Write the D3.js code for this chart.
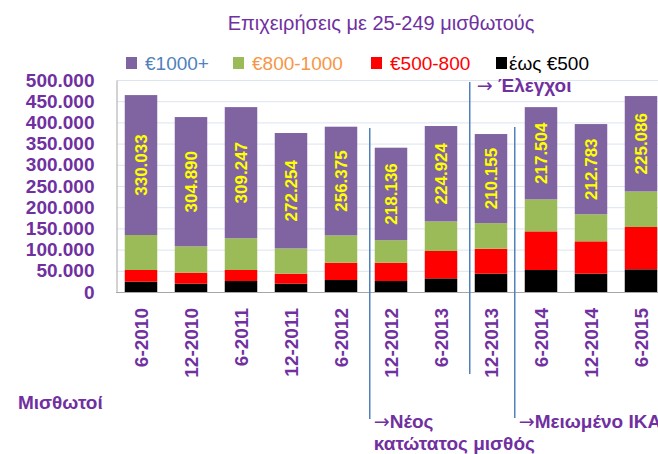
<!DOCTYPE html>
<html>
<head>
<meta charset="utf-8">
<script src="https://cdn.jsdelivr.net/npm/d3@7"></script>
<style>
  body { margin: 0; background: #fff; }
  text { font-family: "Liberation Sans", Arial, sans-serif; }
</style>
</head>
<body>
<script>
// data
var categories = ["6-2010","12-2010","6-2011","12-2011","6-2012","12-2012","6-2013","12-2013","6-2014","12-2014","6-2015"]
var upTo500   = [24300, 19600, 25900, 19600, 28300, 25900, 32200, 43200, 51900, 43200, 53500]
var r500to800 = [27600, 26000, 26000, 23600, 40800, 43200, 64500, 58800, 91100, 76300, 99800]
var r800to1000 = [82500, 62100, 74900, 59500, 64400, 53100, 69800, 60400, 75500, 63800, 83800]
var over1000  = [330033, 304890, 309247, 272254, 256375, 218136, 224924, 210155, 217504, 212783, 225086]
var seriesNames = ["έως €500", "€500-800", "€800-1000", "€1000+"]
var yTickValues = [0, 50000, 100000, 150000, 200000, 250000, 300000, 350000, 400000, 450000, 500000]

var width = 658
var height = 454
var purple = "#7030A0"

var svg = d3.select("body")
  .append("svg")
    .attr("width", width)
    .attr("height", height)

var gr = d3.formatLocale({decimal: ",", thousands: ".", grouping: [3], currency: ["", "€"]})
var fmt = gr.format(",d")

// scales
var x = d3.scaleBand()
  .domain(categories)
  .range([116, 666])
  .paddingInner(0.35)
  .paddingOuter(0.175)

var y = d3.scaleLinear()
  .domain([0, 500000])
  .range([292, 80])

// table for stacking
var table = categories.map(function(c, i) {
  return {cat: c, "έως €500": upTo500[i], "€500-800": r500to800[i], "€800-1000": r800to1000[i], "€1000+": over1000[i]}
})
var colors = d3.scaleOrdinal()
  .domain(seriesNames)
  .range(["#000000", "#FF0000", "#9BBB59", "#8064A2"])

// gridlines
svg.append("g")
  .selectAll("line")
  .data(yTickValues.slice(1))
  .enter()
  .append("line")
    .attr("x1", 117).attr("x2", width)
    .attr("y1", function(d){ return y(d) + 0.5 })
    .attr("y2", function(d){ return y(d) + 0.5 })
    .attr("stroke", "#DCE4EE")
    .attr("stroke-width", 1)

// y axis
var yAxis = svg.append("g")
  .attr("transform", "translate(116.5,0)")
  .call(d3.axisLeft(y).tickValues(yTickValues).tickFormat(fmt).tickSize(0).tickPadding(22))
yAxis.select(".domain").attr("stroke", "#A6A6A6")
yAxis.selectAll("text")
  .style("font-size", "19px")
  .style("font-weight", "bold")
  .attr("fill", purple)

// bars
var stack = d3.stack().keys(seriesNames)(table)
svg.append("g")
  .selectAll("g")
  .data(stack)
  .enter()
  .append("g")
    .attr("fill", function(d){ return colors(d.key) })
  .selectAll("rect")
  .data(function(d){ return d })
  .enter()
  .append("rect")
    .attr("x", function(d){ return x(d.data.cat) })
    .attr("width", x.bandwidth())
    .attr("y", function(d){ return y(d[1]) })
    .attr("height", function(d){ return y(d[0]) - y(d[1]) })

// x axis baseline
svg.append("line")
  .attr("x1", 116).attr("x2", width)
  .attr("y1", 292.5).attr("y2", 292.5)
  .attr("stroke", "#A6A6A6")

// value labels inside purple segment
var topLayer = stack[3]
svg.append("g")
  .selectAll("text")
  .data(topLayer)
  .enter()
  .append("text")
    .attr("transform", function(d){
      return "translate(" + (x(d.data.cat) + x.bandwidth() / 2 + 6) + "," + ((y(d[0]) + y(d[1])) / 2) + ") rotate(-90)"
    })
    .attr("text-anchor", "middle")
    .attr("fill", "#FFFF00")
    .style("font-size", "17px")
    .style("font-weight", "bold")
    .text(function(d){ return fmt(d[1] - d[0]) })

// category labels
svg.append("g")
  .selectAll("text")
  .data(categories)
  .enter()
  .append("text")
    .attr("transform", function(d){
      return "translate(" + (x(d) + x.bandwidth() / 2 + 7) + ",308) rotate(-90)"
    })
    .attr("text-anchor", "end")
    .attr("fill", purple)
    .style("font-size", "19px")
    .style("font-weight", "bold")
    .text(function(d){ return d })

// annotation lines
var notes = [
  {cat: "12-2012", off: 5, y1: 128, y2: 419},
  {cat: "12-2013", off: 5, y1: 82, y2: 374},
  {cat: "6-2014", off: 10, y1: 127, y2: 418}
]
svg.append("g")
  .selectAll("line")
  .data(notes)
  .enter()
  .append("line")
    .attr("x1", function(d){ return x(d.cat) - d.off })
    .attr("x2", function(d){ return x(d.cat) - d.off })
    .attr("y1", function(d){ return d.y1 })
    .attr("y2", function(d){ return d.y2 })
    .attr("stroke", "#4F81BD")
    .attr("stroke-width", 1.5)

function note(tx, ty, s) {
  var t = svg.append("text")
    .attr("x", tx).attr("y", ty)
    .attr("fill", purple)
    .style("font-size", "19px")
    .style("font-weight", "bold")
  var parts = s.split("→")
  if (parts.length > 1) {
    t.append("tspan").style("font-family", "DejaVu Sans").style("font-weight", "normal").text("→")
    t.append("tspan").text(parts[1])
  } else {
    t.text(s)
  }
}
note(x("12-2013") + 2, 92, "→ Έλεγχοι")
note(x("12-2012") - 1, 428, "→Νέος")
note(x("12-2012") - 1, 450, "κατώτατος μισθός")
note(x("6-2014") - 6, 428, "→Μειωμένο ΙΚΑ")
note(18, 409, "Μισθωτοί")

// title
svg.append("text")
  .attr("x", 381).attr("y", 30)
  .attr("text-anchor", "middle")
  .attr("fill", purple)
  .style("font-size", "20px")
  .text("Επιχειρήσεις με 25-249 μισθωτούς")

// legend
var legend = [
  {name: "€1000+", fill: "#8064A2", txt: "#4F81BD", lx: 126},
  {name: "€800-1000", fill: "#9BBB59", txt: "#F79646", lx: 233},
  {name: "€500-800", fill: "#FF0000", txt: "#FF0000", lx: 371},
  {name: "έως €500", fill: "#000000", txt: "#000000", lx: 496}
]
var lg = svg.append("g")
  .selectAll("g")
  .data(legend)
  .enter()
  .append("g")
    .attr("transform", function(d){ return "translate(" + d.lx + ",57)" })
lg.append("rect")
  .attr("width", 11).attr("height", 12)
  .attr("fill", function(d){ return d.fill })
lg.append("text")
  .attr("x", function(d, i){ return i == 3 ? 13 : 19 })
  .attr("y", 13)
  .attr("fill", function(d){ return d.txt })
  .style("font-size", "19px")
  .text(function(d){ return d.name })
</script>
</body>
</html>
